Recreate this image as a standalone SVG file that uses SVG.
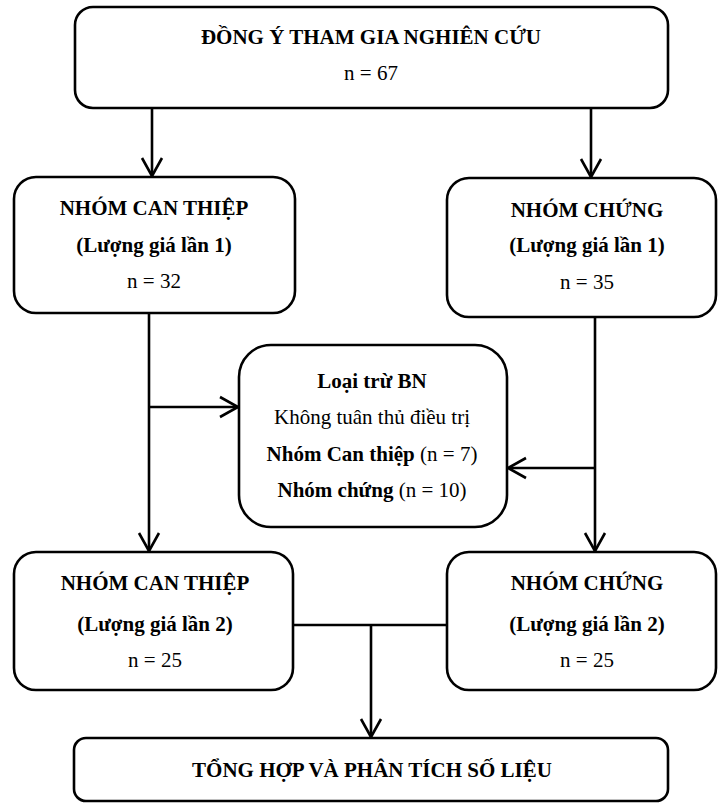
<svg xmlns="http://www.w3.org/2000/svg" width="718" height="806" viewBox="0 0 718 806">
<style>
.box{fill:#fff;stroke:#000;stroke-width:2.6}
.t{font-family:"Liberation Serif","Times New Roman",serif;font-size:21px;fill:#000;text-anchor:middle}
.b{font-weight:bold}
.c{fill:none;stroke:#000;stroke-width:2.6}
</style>
<defs>
<marker id="ah" markerUnits="userSpaceOnUse" markerWidth="24" markerHeight="26" viewBox="0 0 24 26" refX="21" refY="13" orient="auto">
<path d="M3,3 L21,13 L3,23" fill="none" stroke="#000" stroke-width="2.6"/>
</marker>
</defs>
<rect width="718" height="806" fill="#fff"/>
<g id="connectors">
<line class="c" x1="152" y1="108" x2="152" y2="176" marker-end="url(#ah)"/>
<line class="c" x1="591" y1="108" x2="591" y2="177" marker-end="url(#ah)"/>
<line class="c" x1="149" y1="313" x2="149" y2="551" marker-end="url(#ah)"/>
<line class="c" x1="149" y1="407" x2="238" y2="407" marker-end="url(#ah)"/>
<line class="c" x1="595" y1="317" x2="595" y2="551" marker-end="url(#ah)"/>
<line class="c" x1="595" y1="468" x2="508" y2="468" marker-end="url(#ah)"/>
<line class="c" x1="293" y1="625" x2="447" y2="625"/>
<line class="c" x1="371" y1="625" x2="371" y2="737" marker-end="url(#ah)"/>
</g>
<g id="n1">
<rect class="box" x="75" y="7" width="593" height="101" rx="18"/>
<text class="t b" x="371" y="44">ĐỒNG Ý THAM GIA NGHIÊN CỨU</text>
<text class="t" x="371" y="80">n = 67</text>
</g>
<g id="n2">
<rect class="box" x="14" y="177" width="281" height="136" rx="22"/>
<text class="t b" x="154" y="215">NHÓM CAN THIỆP</text>
<text class="t b" x="154" y="252">(Lượng giá lần 1)</text>
<text class="t" x="154" y="288">n = 32</text>
</g>
<g id="n3">
<rect class="box" x="447" y="178" width="269" height="139" rx="22"/>
<text class="t b" x="587" y="217">NHÓM CHỨNG</text>
<text class="t b" x="587" y="252">(Lượng giá lần 1)</text>
<text class="t" x="587" y="289">n = 35</text>
</g>
<g id="n4">
<rect class="box" x="239" y="345" width="268" height="182" rx="32"/>
<text class="t b" x="372" y="388">Loại trừ BN</text>
<text class="t" x="372" y="424">Không tuân thủ điều trị</text>
<text class="t" x="372" y="461"><tspan class="b">Nhóm Can thiệp</tspan> (n = 7)</text>
<text class="t" x="372" y="497"><tspan class="b">Nhóm chứng</tspan> (n = 10)</text>
</g>
<g id="n5">
<rect class="box" x="14" y="552" width="279" height="138" rx="22"/>
<text class="t b" x="155" y="590">NHÓM CAN THIỆP</text>
<text class="t b" x="155" y="631">(Lượng giá lần 2)</text>
<text class="t" x="155" y="667">n = 25</text>
</g>
<g id="n6">
<rect class="box" x="447" y="552" width="269" height="138" rx="22"/>
<text class="t b" x="587" y="590">NHÓM CHỨNG</text>
<text class="t b" x="587" y="631">(Lượng giá lần 2)</text>
<text class="t" x="587" y="667">n = 25</text>
</g>
<g id="n7">
<rect class="box" x="74" y="738" width="594" height="63" rx="12"/>
<text class="t b" x="372" y="777">TỔNG HỢP VÀ PHÂN TÍCH SỐ LIỆU</text>
</g>
</svg>
